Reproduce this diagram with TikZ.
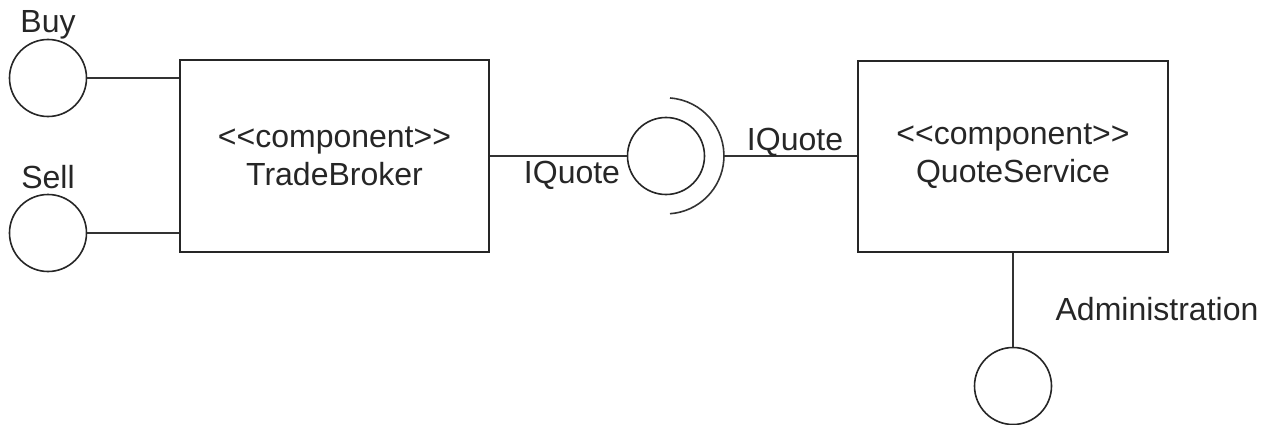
\documentclass[tikz,border=0pt]{standalone}
\usepackage{fontspec}
\setmainfont{Liberation Sans}
\begin{document}
\begin{tikzpicture}[x=1pt,y=-1pt,
  comp/.style={draw=black!85, line width=2.6pt, align=center, inner sep=0pt,
    font=\fontsize{32}{38}\selectfont, text=black!85},
  iface/.style={draw=black!85, line width=1.6pt, circle, minimum size=77pt, inner sep=0pt},
  conn/.style={draw=black!80, line width=1.6pt},
  lbl/.style={font=\fontsize{32}{38}\selectfont, text=black!85, anchor=base, inner sep=0pt}]
\useasboundingbox (0,0) rectangle (1271,425);

% components
\node[comp, minimum width=309pt, minimum height=192pt] (tb) at (334.5,156) {{<}{<}component{>}{>}\\TradeBroker};
\node[comp, minimum width=310pt, minimum height=191pt] (qs) at (1013,156.5) {{<}{<}component{>}{>}\\QuoteService};

% provided interfaces
\node[iface] (buy) at (48,78) {};
\node[iface] (sell) at (48,233) {};
\node[iface] (iq) at (666,156) {};
\node[iface] (adm) at (1013,386) {};

% socket
\coordinate (sock) at ([xshift=58pt]iq.center);
\draw[conn] ([shift={(4pt,58pt)}]iq.center) arc[start angle=86, end angle=-86, radius=58pt];

% connectors
\draw[conn] (buy.east) -- (buy.east -| tb.west);
\draw[conn] (sell.east) -- (sell.east -| tb.west);
\draw[conn] (tb.east) -- (iq.west);
\draw[conn] (sock) -- (sock -| qs.west);
\draw[conn] (qs.south) -- (adm.north);

% labels
\node[lbl] (lbuy) at (48,33) {Buy};
\node[lbl] (lsell) at (48,188) {Sell};
\node[lbl] (liq1) at (572,183) {IQuote};
\node[lbl] (liq2) at (795,150) {IQuote};
\node[lbl] (ladm) at (1157,320) {Administration};
\end{tikzpicture}
\end{document}
